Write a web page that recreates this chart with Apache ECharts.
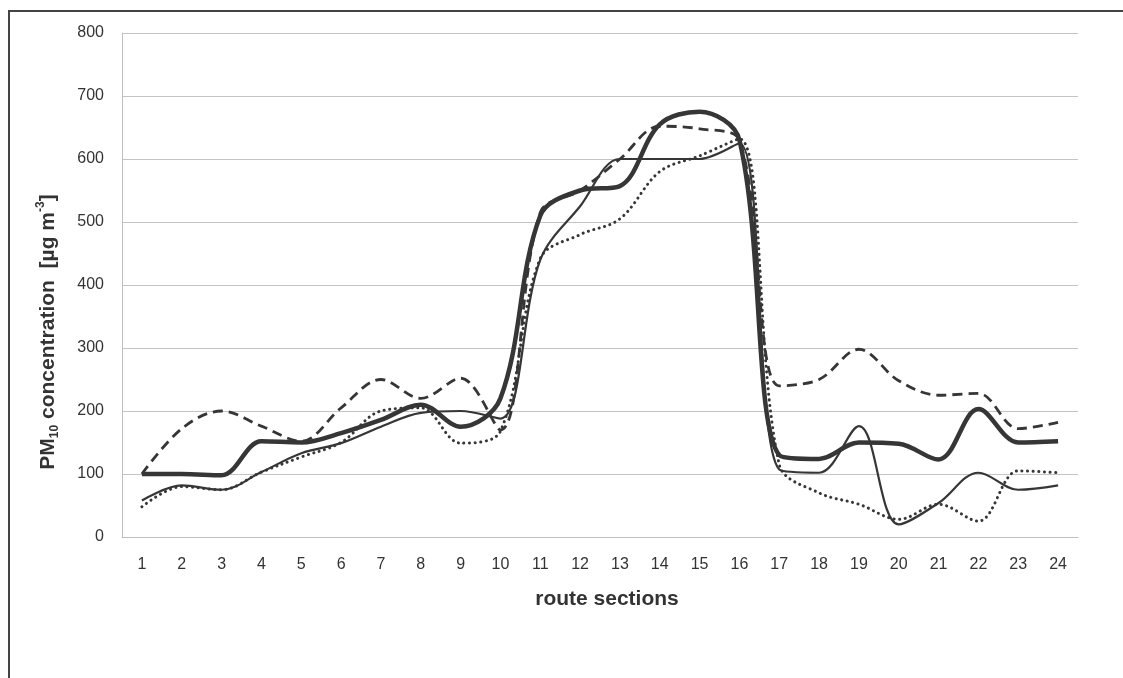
<!DOCTYPE html>
<html>
<head>
<meta charset="utf-8">
<script src="https://cdn.jsdelivr.net/npm/echarts@6/dist/echarts.min.js"></script>
<style>
html,body{margin:0;padding:0;background:#fff;}
#chart{width:1123px;height:678px;}
</style>
</head>
<body>
<div id="chart"></div>
<script>
const categories = ['1','2','3','4','5','6','7','8','9','10','11','12','13','14','15','16','17','18','19','20','21','22','23','24'];
const yTicks = [0,100,200,300,400,500,600,700,800];
const seriesThick  = [100,100,98,152,150,165,186,210,175,220,510,550,557,655,675,630,130,124,150,148,123,203,150,152];
const seriesDashed = [100,172,200,176,152,205,250,220,252,170,515,550,600,652,648,630,240,250,298,248,225,228,172,182];
const seriesThin   = [58,82,75,103,133,149,175,197,200,188,440,525,600,600,600,625,107,102,176,20,54,102,75,82];
const seriesDotted = [48,80,75,103,127,150,200,205,149,168,442,480,505,580,605,632,115,70,52,28,52,25,105,102];

const chart = echarts.init(document.getElementById('chart'), null, {renderer:'canvas'});
const lineColor = '#363636';
const font = 'Arial, "Liberation Sans", sans-serif';
const sm = 0.35;
chart.setOption({
  animation:false,
  backgroundColor:'#fff',
  grid:{left:122,right:45,top:33,bottom:141},
  xAxis:{
    type:'category',
    data:categories,
    boundaryGap:true,
    axisLine:{show:true,lineStyle:{color:'#bfbfbf',width:1}},
    axisTick:{show:false},
    axisLabel:{color:'#333',fontSize:16,fontFamily:font,margin:20},
    name:'route sections',
    nameLocation:'middle',
    nameGap:52,
    nameTextStyle:{color:'#333',fontSize:21,fontWeight:'bold',fontFamily:font,padding:[0,0,0,14]}
  },
  yAxis:{
    type:'value',
    min:yTicks[0],max:yTicks[yTicks.length-1],interval:100,
    axisLine:{show:true,lineStyle:{color:'#bfbfbf',width:1}},
    axisTick:{show:false},
    axisLabel:{color:'#333',fontSize:16,fontFamily:font,margin:18},
    splitLine:{lineStyle:{color:'#c4c4c4',width:1}}
  },
  graphic:[
    {type:'line',shape:{x1:8,y1:11,x2:1123,y2:11},style:{stroke:'#444',lineWidth:2}},
    {type:'line',shape:{x1:9,y1:10,x2:9,y2:678},style:{stroke:'#444',lineWidth:2}},
    {type:'text',x:48,y:332,rotation:Math.PI/2,
     style:{
       text:'{a|PM}{s|10}{a| concentration  [µg m}{p|-3}{a|]}',
       align:'center',verticalAlign:'middle',
       rich:{
         a:{fontSize:21,fontWeight:'bold',fontFamily:font,fill:'#333',lineHeight:26,verticalAlign:'middle'},
         s:{fontSize:12,fontWeight:'bold',fontFamily:font,fill:'#333',lineHeight:26,verticalAlign:'bottom'},
         p:{fontSize:12,fontWeight:'bold',fontFamily:font,fill:'#333',lineHeight:26,verticalAlign:'top'}
       }
     }}
  ],
  series:[
    {name:'Series 1',type:'line',data:seriesThick,smooth:sm,symbol:'none',
     lineStyle:{color:lineColor,width:4.5}},
    {name:'Series 2',type:'line',data:seriesDashed,smooth:sm,symbol:'none',
     lineStyle:{color:lineColor,width:2.8,type:[10,6]}},
    {name:'Series 3',type:'line',data:seriesThin,smooth:sm,symbol:'none',
     lineStyle:{color:lineColor,width:2.2}},
    {name:'Series 4',type:'line',data:seriesDotted,smooth:sm,symbol:'none',
     lineStyle:{color:lineColor,width:3,type:[0.1,5.5],cap:'round'}}
  ]
});
</script>
</body>
</html>
